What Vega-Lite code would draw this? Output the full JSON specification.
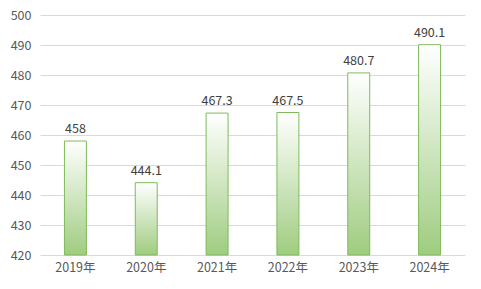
{
  "$schema": "https://vega.github.io/schema/vega-lite/v6.json",
  "autosize": "none",
  "width": 425,
  "height": 240,
  "padding": {"left": 40, "top": 15, "right": 16, "bottom": 34},
  "background": "white",
  "config": {"view": {"stroke": null}, "font": "Noto Sans CJK SC"},
  "data": {"values": [
    {"year": "2019年", "value": 458, "label": "458"},
    {"year": "2020年", "value": 444.1, "label": "444.1"},
    {"year": "2021年", "value": 467.3, "label": "467.3"},
    {"year": "2022年", "value": 467.5, "label": "467.5"},
    {"year": "2023年", "value": 480.7, "label": "480.7"},
    {"year": "2024年", "value": 490.1, "label": "490.1"}
  ]},
  "encoding": {
    "x": {"field": "year", "type": "nominal", "sort": null,
      "scale": {"paddingInner": 0.69, "paddingOuter": 0.345},
      "axis": {"title": null, "labelAngle": 0, "ticks": false, "domain": false, "labelFontSize": 12.5, "labelColor": "#595959", "labelPadding": 6, "grid": false}},
    "y": {"field": "value", "type": "quantitative",
      "scale": {"domain": [420, 500], "zero": false, "nice": false},
      "axis": {"title": null, "values": [420, 430, 440, 450, 460, 470, 480, 490, 500], "ticks": false, "domain": false, "labelFontSize": 12.5, "labelColor": "#595959", "labelPadding": 9, "gridColor": "#d9d9d9", "gridWidth": 1}}
  },
  "layer": [
    {"mark": {"type": "bar", "stroke": "#7fba5a", "strokeWidth": 1,
      "fill": {"gradient": "linear", "x1": 0, "y1": 0, "x2": 0, "y2": 1,
        "stops": [{"offset": 0, "color": "#ffffff"}, {"offset": 1, "color": "#9fcc80"}]}},
      "encoding": {"y2": {"datum": 420}}},
    {"mark": {"type": "text", "dy": -12, "fontSize": 12.5, "color": "#404040"},
      "encoding": {"text": {"field": "label"}}}
  ]
}
